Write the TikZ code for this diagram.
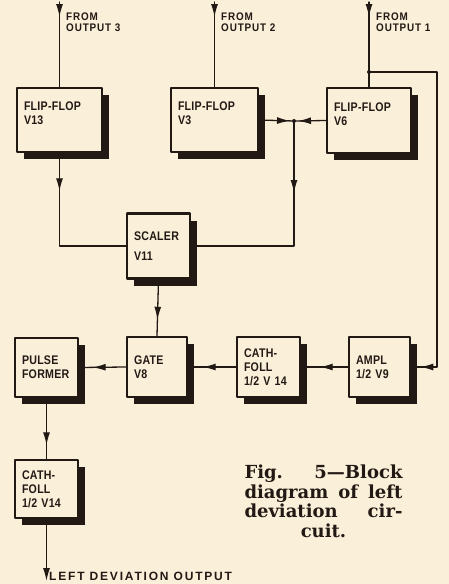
\documentclass[tikz,border=0pt]{standalone}
\usepackage{fontspec}
\usetikzlibrary{arrows.meta,shadows,decorations.markings}
\newfontfamily\boxfont[FakeStretch=0.85,LetterSpace=2]{Liberation Sans}
\newfontfamily\tagfont[FakeStretch=0.9,LetterSpace=8]{Liberation Sans}
\newfontfamily\outfont[LetterSpace=15]{Liberation Sans}
\newfontfamily\capfont[Ligatures=TeX]{DejaVu Serif}
\definecolor{paper}{RGB}{250,240,218}
\definecolor{ink}{RGB}{35,25,20}
\begin{document}
\begin{tikzpicture}[x=1pt,y=-1pt,line cap=round,line join=round,
  block/.style={draw=ink,line width=2.6pt,fill=paper,text=ink,inner xsep=7pt,inner ysep=2pt,
    align=left,minimum height=#1,font=\boxfont\bfseries\fontsize{12.5}{14}\selectfont,
    drop shadow={shadow xshift=7pt,shadow yshift=-7pt,opacity=1,fill=ink}},
  block/.default=60pt,
  wire/.style={draw=ink,line width=1.3pt},
  tipat/.style={postaction={decorate},decoration={markings,
    mark=at position #1 with {\arrow{Latex[length=13pt,width=7pt]}}}},
  intag/.style={anchor=north west,inner sep=0pt,align=left,text=ink,
    font=\tagfont\bfseries\fontsize{11}{11}\selectfont}]
  \useasboundingbox (0,0) rectangle (449,584);
  \fill[paper] (0,0) rectangle (449,584);
  % flip-flops
  \node[block=64pt,text width=71pt,text depth=27pt] (ffa) at (59.5,120) {FLIP-FLOP\\V13};
  \node[block=64pt,text width=73pt,text depth=27pt] (ffb) at (214.5,120) {FLIP-FLOP\\V3};
  \node[block=65pt,text width=70pt,text depth=27pt] (ffc) at (369,120.5) {FLIP-FLOP\\V6};
  \node[block=65pt,text width=49pt] (scaler) at (158.5,246) {SCALER\\[6pt]V11};
  % bottom row
  \node[block=59pt,text width=49pt] (pulse) at (46.5,367.5) {PULSE\\FORMER};
  \node[block=60pt,text width=46pt] (gate) at (157,367) {GATE\\V8};
  \node[block=60pt,text width=49pt] (cath) at (268.5,367) {CATH-\\FOLL\\1/2 V 14};
  \node[block=60pt,text width=47pt] (ampl) at (379.5,367) {AMPL\\1/2 V9};
  \node[block=58pt,text width=49pt] (cathb) at (46.5,489) {CATH-\\FOLL\\1/2 V14};
  % inputs
  \coordinate (in3) at (ffa.north |- 0,2);
  \coordinate (in2) at (ffb.north |- 0,2);
  \coordinate (in1) at (ffc.north |- 0,2);
  \coordinate (tap) at (ffc.north |- 0,72);
  \coordinate (bend) at (437,72);
  \coordinate (jn) at (294,121);
  \coordinate (out) at (cathb.south |- 0,581);
  \node[intag] (tag3) at (66,13) {FROM\\OUTPUT 3};
  \node[intag] (tag2) at (221,13) {FROM\\OUTPUT 2};
  \node[intag] (tag1) at (376,13) {FROM\\OUTPUT 1};
  \draw[wire,tipat=15pt] (in3) -- (ffa.north);
  \draw[wire,tipat=15pt] (in2) -- (ffb.north);
  \draw[wire,tipat=15pt] (in1) -- (ffc.north);
  \draw[wire,tipat=-9pt] (tap) -- (bend) |- (ampl.east);
  \fill[ink] (tap) circle (2pt);
  % to the scaler
  \draw[wire,tipat=-4pt] (ffb.east) -- (jn);
  \draw[wire,tipat=-4pt] (ffc.west) -- (jn);
  \fill[ink] (jn) circle (2pt);
  \draw[wire,tipat=72pt] (jn) |- (scaler.east);
  \draw[wire,tipat=38pt] (ffa.south) |- (scaler.west);
  \draw[wire,tipat=40pt] (scaler.south) -- (gate.north);
  % chain to output
  \draw[wire,tipat=28pt] (ampl.west) -- (cath.east);
  \draw[wire,tipat=33pt] (cath.west) -- (gate.east);
  \draw[wire,tipat=33pt] (gate.west) -- (pulse.east);
  \draw[wire,tipat=47pt] (pulse.south) -- (cathb.north);
  \draw[wire,-{Latex[length=13pt,width=7pt]}] (cathb.south) -- (out);
  \node[anchor=base west,inner sep=0pt,text=ink,font=\outfont\bfseries\fontsize{12}{12}\selectfont]
    (outtag) at (49,580) {LEFT DEVIATION OUTPUT};
  % caption
  \node[anchor=north,inner sep=0pt,align=center,text=ink,font=\capfont\bfseries\fontsize{18}{19.5}\selectfont]
    (cap) at (323.5,465) {\hbox to 158pt{Fig.\hfill 5---Block}\\
    \hbox to 158pt{diagram\hfill of\hfill left}\\
    \hbox to 158pt{deviation\hfill cir-}\\cuit.};
\end{tikzpicture}
\end{document}
